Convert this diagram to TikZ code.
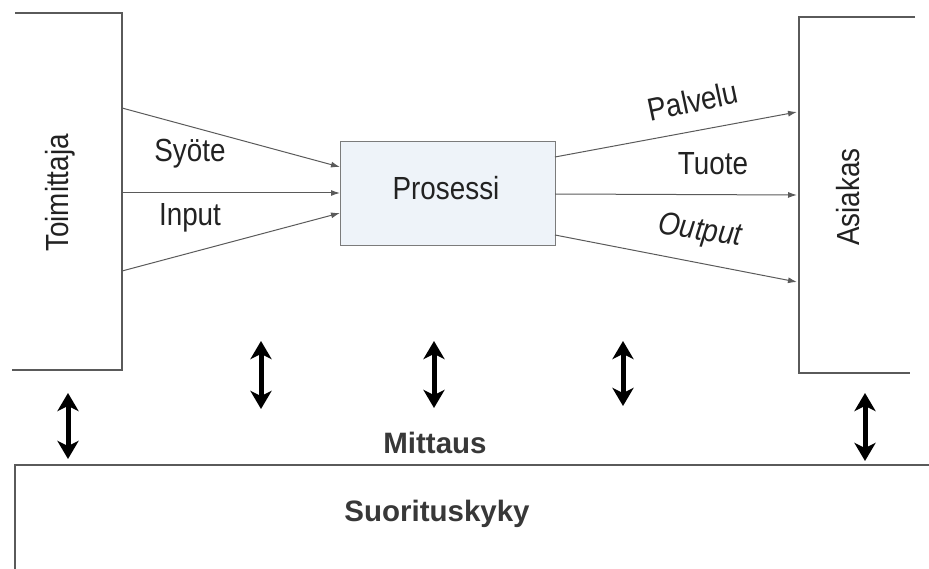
\documentclass[tikz,border=0pt]{standalone}
\usepackage{fontspec}
\setmainfont{Liberation Sans}
\newfontfamily\condfont[FakeStretch=0.87]{Liberation Sans}
\usetikzlibrary{arrows.meta}
\definecolor{ink}{HTML}{222222}
\definecolor{rule}{HTML}{5A5A5A}
\definecolor{procfill}{HTML}{EEF3F9}
\tikzset{
  frame/.style={draw=rule, line width=1.1pt},
  flow/.style={draw=rule, line width=1pt, -{Latex[length=9pt,width=6pt]}},
  lbl/.style={inner sep=0pt, text=ink, font=\condfont\fontsize{32}{38}\selectfont},
  boldlbl/.style={inner sep=0pt, text=ink!90, font=\bfseries\fontsize{29.5}{35}\selectfont},
  measure/.style={draw=black, line width=5pt, {Stealth[length=18pt,width=21pt,inset=5pt]}-{Stealth[length=18pt,width=21pt,inset=5pt]}},
}
\begin{document}
\begin{tikzpicture}[x=1pt,y=-1pt]
  \useasboundingbox (0,0) rectangle (929,569);

  % supplier (open to the left)
  \draw[frame] (15,13) -- (122,13) -- (122,370) -- (12,370);
  \node[lbl, rotate=90] (supplier) at (60,193) {Toimittaja};

  % customer (open to the right)
  \draw[frame] (915,17) -- (799,17) -- (799,373) -- (910,373);
  \node[lbl, rotate=90] (customer) at (848,197) {Asiakas};

  % process
  \node[draw=rule!80, fill=procfill, line width=1pt, minimum width=215pt,
        minimum height=104pt, inner sep=0pt] (proc) at (447.5,194) {};
  \node[lbl] (proclbl) at (446,188) {Prosessi};

  % inputs
  \coordinate (inA) at (122,108);  \coordinate (inAend) at (340,167);
  \coordinate (inB) at (122,193);  \coordinate (inBend) at (340,193);
  \coordinate (inC) at (122,271);  \coordinate (inCend) at (340,213);
  \draw[flow] (inA) -- (inAend);
  \draw[flow] (inB) -- (inBend);
  \draw[flow] (inC) -- (inCend);
  \node[lbl] (syote) at (190,154) {Syöte};
  \node[lbl] (input) at (190,218) {Input};

  % outputs
  \coordinate (outA) at (555,157); \coordinate (outAend) at (797,112);
  \coordinate (outB) at (555,194); \coordinate (outBend) at (797,195);
  \coordinate (outC) at (555,235); \coordinate (outCend) at (797,282);
  \draw[flow] (outA) -- (outAend);
  \draw[flow] (outB) -- (outBend);
  \draw[flow] (outC) -- (outCend);
  \node[lbl, rotate=12] (palvelu) at (693,101) {Palvelu};
  \node[lbl] (tuote) at (713,164) {Tuote};
  \node[lbl, rotate=-8] (output) at (700,232) {\itshape Output};

  % performance base
  \draw[draw=rule, line width=1.3pt] (929,465) -- (15,465) -- (15,569);
  \node[boldlbl] (mittaus) at (435,443) {Mittaus};
  \node[boldlbl] (suoritus) at (437,514) {Suorituskyky};

  % measurement arrows
  \coordinate (m1a) at (68,393);  \coordinate (m1b) at (68,459);
  \coordinate (m2a) at (261,341); \coordinate (m2b) at (261,409);
  \coordinate (m3a) at (434,341); \coordinate (m3b) at (434,408);
  \coordinate (m4a) at (623,341); \coordinate (m4b) at (623,406);
  \coordinate (m5a) at (865,393); \coordinate (m5b) at (865,461);
  \foreach \k in {1,...,5} { \draw[measure] (m\k a) -- (m\k b); }
\end{tikzpicture}
\end{document}
